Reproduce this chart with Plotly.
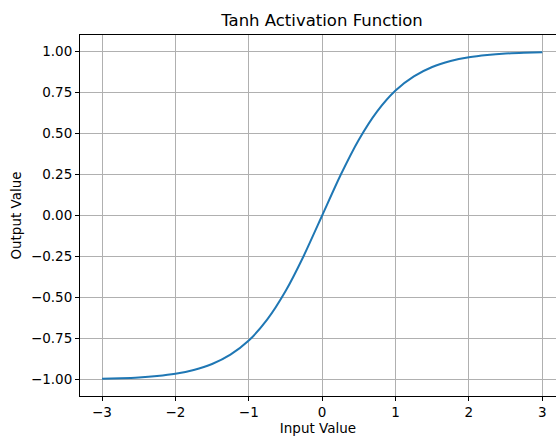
import plotly.graph_objects as go

# Sampled points of the activation curve
input_values = [-3.0, -2.75, -2.5, -2.25, -2.0, -1.75, -1.5, -1.25, -1.0, -0.75, -0.5, -0.25,
                0.0, 0.25, 0.5, 0.75, 1.0, 1.25, 1.5, 1.75, 2.0, 2.25, 2.5, 2.75, 3.0]
output_values = [-0.995, -0.992, -0.987, -0.978, -0.964, -0.941, -0.905, -0.848, -0.762, -0.635, -0.462, -0.245,
                 0.0, 0.245, 0.462, 0.635, 0.762, 0.848, 0.905, 0.941, 0.964, 0.978, 0.987, 0.992, 0.995]

x_ticks = [-3, -2, -1, 0, 1, 2, 3]
y_ticks = [-1.0, -0.75, -0.5, -0.25, 0.0, 0.25, 0.5, 0.75, 1.0]

FONT = "DejaVu Sans"
LABEL_SIZE = 13.5

fig = go.Figure()
fig.add_trace(go.Scatter(
    x=input_values, y=output_values, mode="lines",
    line=dict(color="#1f77b4", width=2, shape="spline", smoothing=0.6),
    showlegend=False,
))

axis_common = dict(
    showgrid=True, gridcolor="#b0b0b0", gridwidth=1,
    zeroline=False,
    showline=True, linecolor="black", linewidth=1,
    ticks="outside", ticklen=4, tickwidth=1, tickcolor="black",
    tickfont=dict(family=FONT, size=LABEL_SIZE, color="black"),
)

fig.update_layout(
    width=556, height=437,
    margin=dict(l=80, r=0, t=35, b=41),
    paper_bgcolor="white", plot_bgcolor="white",
    title=dict(text="Tanh Activation Function", x=(80 + 564) / 2 / 556, xanchor="center",
               y=1 - 20 / 437, yanchor="middle", font=dict(family=FONT, size=16.5, color="black")),
    xaxis=dict(axis_common, range=[-3.3, 3.187], tickvals=x_ticks,
               ticktext=[str(v).replace("-", "\u2212") for v in x_ticks],
               mirror=True, automargin=False,
               title=dict(text="Input Value", standoff=2, font=dict(family=FONT, size=LABEL_SIZE, color="black"))),
    yaxis=dict(axis_common, range=[-1.1, 1.1], tickvals=y_ticks, tickformat=".2f",
               mirror=False, automargin=False,
               title=dict(text="Output Value", standoff=6, font=dict(family=FONT, size=LABEL_SIZE, color="black"))),
)

fig.write_html("out.html")
